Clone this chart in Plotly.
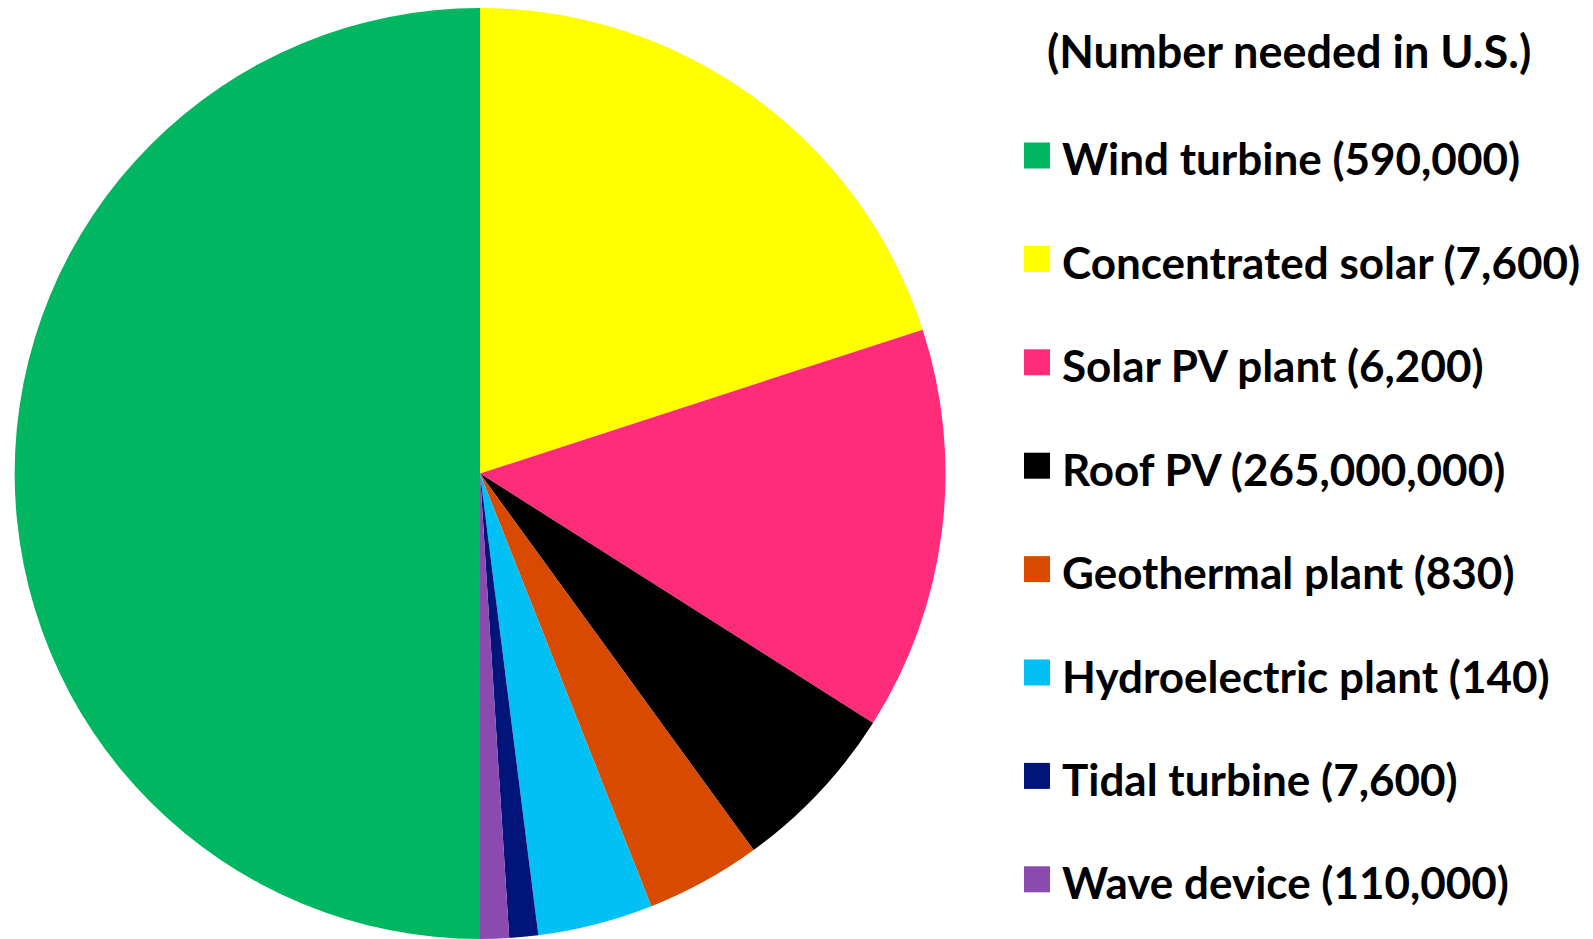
import plotly.graph_objects as go

W, H = 1593, 939

# Data
labels = ["Wind turbine", "Concentrated solar", "Solar PV plant", "Roof PV",
          "Geothermal plant", "Hydroelectric plant", "Tidal turbine", "Wave device"]
counts = ["590,000", "7,600", "6,200", "265,000,000", "830", "140", "7,600", "110,000"]
shares = [50, 20, 14, 6, 4, 4, 1, 1]
colors = ["#00B660", "#FFFF00", "#FF2C7A", "#000000", "#D84A00", "#00C0F5", "#00147A", "#8A4AAE"]
legend_title = "(Number needed in U.S.)"

fig = go.Figure()
fig.add_trace(go.Pie(
    labels=labels, values=shares, sort=False, direction="clockwise", rotation=180,
    marker=dict(colors=colors, line=dict(width=0)), textinfo="none",
    showlegend=False, domain=dict(x=[0, 960 / W], y=[0, 0.9915]),
    hovertemplate="%{label}: %{value}%<extra></extra>",
))

FONT = "Lato"
FS = 44
shapes, annotations = [], []
annotations.append(dict(text="<b>" + legend_title + "</b>", x=1289 / W, y=1 - 51 / H,
                        xref="paper", yref="paper", xanchor="center", yanchor="middle",
                        showarrow=False, font=dict(family=FONT, size=45, color="black")))
for i, (lab, cnt, col) in enumerate(zip(labels, counts, colors)):
    cy = 155.5 + 103.4 * i
    shapes.append(dict(type="rect", xref="paper", yref="paper",
                       x0=1024 / W, x1=1050 / W, y0=1 - (cy - 13) / H, y1=1 - (cy + 13) / H,
                       fillcolor=col, line=dict(width=0)))
    annotations.append(dict(text=f"<b>{lab} ({cnt})</b>", x=1060 / W, y=1 - (cy + 3) / H,
                            xref="paper", yref="paper", xanchor="left", yanchor="middle",
                            showarrow=False, font=dict(family=FONT, size=FS, color="black")))

fig.update_layout(width=W, height=H, margin=dict(l=0, r=0, t=0, b=0),
                  paper_bgcolor="white", plot_bgcolor="white",
                  shapes=shapes, annotations=annotations)
fig.write_html("out.html", config={"displayModeBar": False},
               post_script="document.body.style.margin='0';document.body.style.overflow='hidden';")
